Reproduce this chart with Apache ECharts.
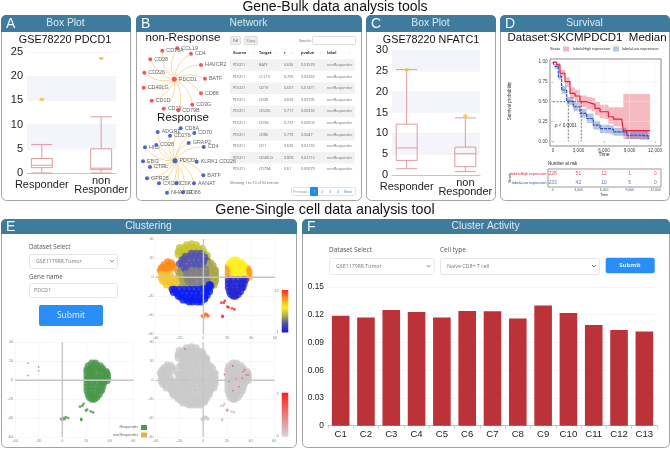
<!DOCTYPE html>
<html><head><meta charset="utf-8"><style>html,body{margin:0;padding:0;background:#fff}#c{width:670px;height:449px}</style>
<script src="https://cdn.jsdelivr.net/npm/echarts@6/dist/echarts.min.js"></script></head><body><div id="c"></div>
<script>
// ---------- data ----------
const boxCats = ['Responder', '', 'non\nResponder'];
const boxA = [[0, 1.1, 1.6, 3.0, 5.9], ['-', '-', '-', '-', '-'], [0, 0.7, 1.0, 5.0, 11.6]];
const outA = [[0, 15.2], [2, 23.7]];
const boxC = [[1.5, 3.5, 6.5, 12.2, 25.3], ['-', '-', '-', '-', '-'], [0.8, 2.0, 5.1, 6.7, 13.7]];
const outC = [[0, 25.3], [2, 14.2]];

const netNon = [['CCL19',177.3,48.3],['CD79A',162.3,50.7],['CD4',191,53.7],['CD38',150.3,59.3],['HAVCR2',201,65],['CD226',144.3,72.7],['BATF',205,78.7],['CD40LG',143.7,87.7],['CD86',201,93.3],['CD1D',151.7,100.7],['CD3G',192.3,104.7],['CD19',163.7,108.7],['CD79B',178.3,110.3]];
const netNonHub = ['PDCD1',174.3,79.3];
const netRes = [['CD8A',180.7,128.3],['ADGR1',157.7,132],['CD276',170,135.7],['CD70',194.3,133],['CD28',156.3,145],['GRAP2',188.7,143],['HICI',145,147.3],['CD4',203.7,147],['EBI3',143,161.3],['KLRK1 CD226',196.7,161.7],['CTRL',150,167],['BATF',203.3,175.3],['GPR25',147,178.3],['CXCR6',159,183.3],['CSK',176.3,183.3],['AANAT',194,183.3],['NHA70R',167,192.7],['CD86',183,192.2]];
const netResHub = ['PDCD1',175,160.7];

const tableHead = ['Source','Target','r','pvalue','label'];
const tableTarget = ['BATF','CCL19','CD19','CD38','CD226','CD3G','CD86','CD1','CD40LG','CD79A'];
const tableR = ['0.635','0.705','0.657','0.659','0.717','0.727','0.779','0.635','0.809','0.61'];
const tableP = ['0.02529','0.00263','0.01471','0.00795','0.00332','0.00502','0.0047','0.02155','0.02712','0.00079'];

const survHigh = [[0,1],[430,.966],[820,.86],[1410,.754],[2000,.606],[2590,.572],[3175,.5],[3960,.479],[4550,.466],[4940,.415],[5530,.373],[6115,.373],[6510,.31],[7100,.28],[8075,.28],[8270,.135],[11400,.14]];
const survLow = [[0,1],[235,.945],[627,.818],[1020,.648],[1610,.508],[2390,.436],[3175,.352],[3960,.288],[4745,.203],[5530,.16],[6700,.15],[7100,.119],[8660,.076],[10230,.068],[11210,.025]];
const ciHigh = [[0,.99,1],[430,.94,.99],[820,.82,.90],[1410,.69,.81],[2000,.54,.68],[2590,.50,.65],[3175,.43,.58],[3960,.40,.56],[4550,.38,.55],[4940,.33,.50],[5530,.29,.46],[6115,.28,.46],[6510,.22,.43],[7100,.19,.43],[8075,.19,.43],[8270,.03,.597],[11400,.03,.597]];
const ciLow = [[0,.99,1],[235,.91,.97],[627,.78,.86],[1020,.60,.70],[1610,.46,.56],[2390,.38,.49],[3175,.30,.41],[3960,.23,.35],[4745,.15,.26],[5530,.10,.21],[6700,.09,.20],[7100,.07,.17],[8660,.03,.13],[10230,.02,.14],[11210,.0,.1]];
const riskTimes = [0,3000,6000,9000,12000];
const riskHigh = [228,51,12,1,0];
const riskLow = [233,42,10,5,0];

const tOlive = [[-14,34],[-10,35],[-6,34],[-20,31],[-16,31],[-12,31],[-8,31],[-4,30],[-1,30],[-21,27],[-19,28],[-15,28],[-11,28],[-7,28],[-3,28],[0,27],[-21,24],[-18,25],[-14,25],[1,24],[3,23],[3,20],[-17,23]];
const tSlate = [[-10,25],[-6,25],[-2,25],[-15,22],[-11,22],[-7,22],[-3,22],[1,21],[-18,18],[-16,19],[-12,18],[-8,18],[-4,18],[0,17],[3,17],[-20,14],[-18,15],[-14,14],[-10,14],[-6,14],[-2,14],[2,13],[-18,10],[-14,10],[-10,10],[-6,11],[-2,10],[-15,7],[-19,6]];
const tGrey = [[-10,7],[-6,7],[-2,6],[2,8],[-14,4],[-10,3],[-6,3],[-2,3],[2,4],[-14,0],[-10,-1],[-6,0],[-2,-1],[2,0],[-13,-4],[-9,-4],[-5,-5],[-1,-4],[3,-4],[-9,-8],[-5,-9],[-1,-8]];
const tKhaki = [[6,15],[5,12],[8,12],[6,8],[9,8],[10,7],[6,4],[9,4],[10,3],[6,0],[9,0],[10,-1],[7,-4],[10,-4],[4,-8],[7,-8],[9,-8],[3,-11],[6,-11],[-21,6],[-20,2],[-17,2],[-20,-2],[-17,-2],[-19,-6],[-15,-6],[-12,-8],[-18,-10],[-14,-10]];
const tOrange = [[-30,16],[-27,15],[-33,13],[-30,13],[-26,13],[-35,10],[-33,10],[-29,10],[-25,10],[-36,7],[-34,6],[-30,6]];
const tGold = [[-35,3],[-32,2],[-28,3],[-35,-1],[-33,-1],[-29,-1],[-25,-1],[-34,-4],[-31,-5],[-27,-4],[-23,-5],[-31,-8],[-27,-9],[-23,-8],[-27,-10],[-24,-11]];
const tBlue = [[-26,-13],[-24,-13],[-20,-13],[-16,-13],[-12,-13],[-8,-13],[-4,-13],[0,-12],[4,-12],[6,-9],[5,-8],[-25,-16],[-22,-17],[-18,-17],[-14,-17],[-10,-17],[-6,-17],[-2,-17],[2,-16],[5,-15],[-21,-20],[-19,-21],[-15,-21],[-11,-21],[-7,-21],[-3,-21],[1,-21],[3,-19],[-17,-24],[-14,-24],[-10,-24],[-6,-24],[-2,-24],[1,-23],[-12,-26],[-9,-26],[-5,-26],[-2,-26]];
const tYellow = [[25,18],[28,18],[22,15],[25,15],[29,15],[32,15],[24,12],[28,12],[32,12],[34,12],[25,8],[29,8],[33,8],[25,4],[29,4],[33,4],[27,1],[31,1],[34,1]];
const tAmber = [[21,11],[21,9],[23,9],[21,5],[23,5],[21,1],[23,1],[37,9],[37,7],[38,6],[37,3],[38,3],[36,0],[38,0]];
const tRoyal = [[21,-3],[25,-3],[29,-3],[33,-3],[35,-3],[21,-7],[24,-7],[28,-7],[32,-7],[34,-7],[21,-11],[24,-11],[28,-11],[32,-11],[33,-11],[22,-15],[24,-15],[28,-15],[31,-15],[23,-18],[26,-18],[29,-18],[25,-20],[27,-20]];
const tSmallOrange = [[-1,-41],[1,-40],[3,-40],[0,-42],[2,-39],[4,-41]];
const tSmallRed = [[15,-27],[17,-27],[18,-25],[20,-31],[21,-32],[24,-33],[26,-34],[16,-41],[16,-42]];
const tSpecks = [[-29,18],[-29,5],[-20,14],[-20,10]];
const tGreenSmall = [[-1,-41],[1,-40],[3,-39],[5,-40],[0,-42],[2,-41],[15,-28],[17,-27],[18,-25],[20,-32],[21,-31],[24,-33],[26,-34],[16,-41],[16,-42]];
const tPositive = [[-15.4,33],[25,15],[18,6],[33.7,9],[35,11],[33,2],[36.5,5.6],[38,5.6],[28,1.4],[21.6,-1],[25,-11],[30,-7],[20,-32]];

const barCats = ['C1','C2','C3','C4','C5','C6','C7','C8','C9','C10','C11','C12','C13'];
const barVals = [.119,.117,.125,.123,.117,.124,.1237,.116,.130,.122,.109,.1035,.102];

// ---------- helpers ----------
const SANS = '"Liberation Sans",Arial,sans-serif', FORM = '"Open Sans","Noto Sans",sans-serif';
const HEAD = '#3e7b9d';
const g = [];
function T(text,x,y,size,fill,opt){opt=opt||{};g.push({type:'text',x:x,y:y,z:opt.z==null?5:opt.z,rotation:opt.rot||0,silent:true,style:{text:text,align:opt.align||'left',verticalAlign:'middle',textAlign:opt.align||'left',textVerticalAlign:'middle',font:(opt.weight?opt.weight+' ':'')+size+'px '+(opt.family||SANS),fill:fill}});}
function R(x,y,w,h,fill,stroke,r,z){g.push({type:'rect',z:z==null?-1:z,silent:true,shape:{x:x,y:y,width:w,height:h,r:r||0},style:{fill:fill,stroke:stroke||null,lineWidth:stroke?1:0}});}
function panel(x0,y0,x1,y1,letter,title,hh){
  R(x0+.5,y0+.5,x1-x0,y1-y0,'#fff','#a4a4a4',5,-3);
  R(x0,y0,x1-x0+1,hh,HEAD,null,[5,5,0,0],-2);
  T(letter,x0+5,y0+hh/2+.5,14,'#f3f8fb');
  T(title,(x0+x1)/2,y0+hh/2,10.3,'#dcebf3',{align:'center'});
}
function select(x0,y0,x1,y1,txt){
  R(x0+.5,y0+.5,x1-x0,y1-y0,'#fff','#e3e6ea',2,-1);
  T(txt,x0+7,(y0+y1)/2,5.3,'#7a7a7a',{family:FORM});
  const cx=x1-5,cy=(y0+y1)/2;
  g.push({type:'polyline',z:5,silent:true,shape:{points:[[cx-2,cy-1],[cx,cy+1],[cx+2,cy-1]]},style:{stroke:'#666',lineWidth:.8,fill:null}});
}
function gradBar(x,y,w,h,stops,top,bot){
  g.push({type:'rect',z:4,silent:true,shape:{x:x,y:y,width:w,height:h},style:{fill:new echarts.graphic.LinearGradient(0,0,0,1,stops)}});
  T(top,x-3,y+1,4,'#888',{align:'right'});T(bot,x-3,y+h-1,4,'#888',{align:'right'});
}

// ---------- frames and titles ----------
T('Gene-Bulk data analysis tools',335,7,14,'#111',{align:'center'});
T('Gene-Single cell data analysis tool',325,210,14.3,'#111',{align:'center'});
panel(1,15,130,200,'A','Box Plot',17);
panel(136,15,361,200,'B','Network',17);
panel(366,15,495,200,'C','Box Plot',17);
panel(500,15,669,200,'D','Survival',17);
panel(1,219,296,447,'E','Clustering',15);
panel(302,219,669,447,'F','Cluster Activity',15);

T('GSE78220 PDCD1',65,40,10.8,'#111',{align:'center'});
T('GSE78220 NFATC1',431,40,10.8,'#111',{align:'center'});
T('non-Response',183,38,11.5,'#111',{align:'center'});
T('Response',183,118,11.5,'#111',{align:'center'});
T('Dataset:SKCMPDCD1  Median',587,38,11.5,'#111',{align:'center'});

// ---------- table ----------
R(230.5,36.5,10,8,'#eee','#ddd',1,-1);T('Pdf',235.5,40.5,3.6,'#666',{align:'center',family:FORM});
R(244.5,36.5,13,8,'#eee','#ddd',1,-1);T('Copy',251,40.5,3.6,'#666',{align:'center',family:FORM});
T('Search:',299,40.5,3.6,'#666',{family:FORM});R(312.5,36.5,43,8,'#fff','#ddd',1,-1);
const colX=[233,259,284,301,327];
tableHead.forEach((h,i)=>T(h,colX[i],53,3.9,'#333',{weight:'bold',family:FORM}));
[0,1,2,3,4].forEach(i=>{T('\u2195',colX[i]+(i===0?20:i===1?17:i===2?7:i===3?19:22),53,3.6,'#bbb',{family:FORM});});
tableTarget.forEach((t,i)=>{
  const y=65+i*11.6;
  if(i%2===0)R(230,y-5.8,125,11.6,'#f2f2f2',null,0,-1);
  T('PDCD1',colX[0],y,3.7,'#666',{family:FORM});T(t,colX[1],y,3.7,'#666',{family:FORM});
  T(tableR[i],colX[2],y,3.7,'#666',{family:FORM});T(tableP[i],colX[3],y,3.7,'#666',{family:FORM});
  T('nonResponder',colX[4],y,3.7,'#666',{family:FORM});
});
T('Showing 1 to 10 of 32 entries',230,182.7,3.6,'#666',{family:FORM});
R(291.5,187.5,64,8,'#fff','#e4e4e4',1,-1);R(310,187,8,9,'#1e88f5',null,1,-1);
T('Previous',300.5,191.5,3.6,'#888',{align:'center',family:FORM});T('1',314,191.5,3.6,'#fff',{align:'center',family:FORM});
T('2',322,191.5,3.6,'#3a7bd5',{align:'center',family:FORM});T('3',330,191.5,3.6,'#3a7bd5',{align:'center',family:FORM});T('4',338,191.5,3.6,'#3a7bd5',{align:'center',family:FORM});T('Next',348,191.5,3.6,'#3a7bd5',{align:'center',family:FORM});

// ---------- survival extras ----------
T('Strata',550,49,3.8,'#333');
R(563,46.5,6,5,'#f4b6bd',null,0,1);R(613,46.5,6,5,'#b6c4e6',null,0,1);
T('label=High expression',573,49,3.8,'#333');T('label=Low expression',622,49,3.8,'#333');
T('Survival probability',510,101,4.6,'#333',{align:'center',rot:Math.PI/2});
T('Time',604,155,5,'#222',{align:'center'});
T('p < 0.0001',555,125.7,4.6,'#333');
T('Number at risk',548,164,4.5,'#222');
T('Strata',510,178,3.6,'#222',{align:'center',rot:Math.PI/2});
T('Time',604,195.5,3.5,'#222',{align:'center'});

// ---------- form E ----------
T('Dataset Select',29,247,6.3,'#555',{family:FORM});
select(29,254,117,268,'GSE117988.Tumor');
T('Gene name',29,277,6.3,'#555',{family:FORM});
R(29.5,283.5,88,14,'#fff','#e3e6ea',2,-1);T('PDCD1',34,290.5,5.3,'#7a7a7a',{family:FORM});
R(39,305,64,21,'#2a8ef6',null,2,-1);T('Submit',71,316,8.5,'#e8f3ff',{align:'center',family:FORM});
gradBar(281.7,290,6.6,42.5,[{offset:0,color:'#ff2a1a'},{offset:.22,color:'#ffa020'},{offset:.42,color:'#ffee20'},{offset:.62,color:'#a8a850'},{offset:.78,color:'#55559f'},{offset:.97,color:'#2020d0'},{offset:1,color:'#0a1ef5'}],'13','1');
gradBar(281.7,392.7,6.6,44,[{offset:0,color:'#ff2020'},{offset:1,color:'#d4d4d4'}],'2','0');
T('Responder',138,427,3.8,'#666',{align:'right'});R(141,425,6,5,'#4a9a4a',null,0,1);
T('nonResponder',138,434.7,3.8,'#666',{align:'right'});R(141,432.5,6,5,'#e8b040',null,0,1);

// ---------- form F ----------
T('Dataset Select',329,249.7,6.5,'#555',{family:FORM});
select(329,258,433.6,274,'GSE117988.Tumor');
T('Cell type',440,249.7,6.5,'#555',{family:FORM});
select(440,258,599,274,'Naive CD8+ T cell');
R(605.7,257.7,49,15.6,'#2a8ef6',null,2,-1);T('Submit',630,265.5,6,'#e8f3ff',{align:'center',weight:'bold',family:FORM});

// ---------- ECharts grids ----------
const grid=[], xAxis=[], yAxis=[], series=[];
function addGrid(l,t,w,h,extra){grid.push(Object.assign({left:l,top:t,width:w,height:h,containLabel:false},extra||{}));return grid.length-1;}

function boxPanel(l,t,w,h,ymax,box,out){
  const i=addGrid(l,t,w,h);
  xAxis.push({gridIndex:i,type:'category',data:boxCats,axisTick:{show:false},axisLine:{lineStyle:{color:'#c4c4c4'}},splitLine:{show:false},
    axisLabel:{interval:0,margin:3,fontFamily:SANS,fontSize:11,color:'#222',lineHeight:9,
      formatter:v=>v==='Responder'?'{lo|Responder}':v,rich:{lo:{padding:[9,0,0,0],fontSize:11,fontFamily:SANS,color:'#222'}}}});
  yAxis.push({gridIndex:i,type:'value',min:0,max:ymax,interval:5,axisLine:{show:false},axisTick:{show:false},
    axisLabel:{fontFamily:SANS,fontSize:11,color:'#222',margin:4},
    splitLine:{lineStyle:{color:'#f1f2f6',width:.6}},splitArea:{show:true,areaStyle:{color:['rgba(255,255,255,0)','#f3f5fb']}}});
  series.push({type:'boxplot',xAxisIndex:i,yAxisIndex:i,data:box,boxWidth:[21,21],itemStyle:{color:'rgba(255,255,255,0)',borderColor:'#e29a9c',borderWidth:1},silent:true,animation:false});
  series.push({type:'scatter',xAxisIndex:i,yAxisIndex:i,data:out,symbol:'circle',symbolSize:[5,3.2],itemStyle:{color:'#f2c22e'},silent:true});
}
boxPanel(27,52,89,121,25,boxA,outA);
boxPanel(392,50,88,125,30,boxC,outC);

// network, axis units are the panel's own layout space
const ni=addGrid(137,34,92,165);
xAxis.push({gridIndex:ni,type:'value',min:137,max:229,show:false});
yAxis.push({gridIndex:ni,type:'value',min:34,max:199,inverse:true,show:false});
function net(hub,nodes,color){
  series.push({type:'graph',coordinateSystem:'cartesian2d',xAxisIndex:ni,yAxisIndex:ni,layout:'none',silent:true,
    symbolSize:4,itemStyle:{color:color},
    label:{show:true,position:'right',distance:2,fontSize:5.4,color:'#666',fontFamily:SANS,formatter:'{b}'},
    lineStyle:{color:'#f7dca3',width:1,curveness:.28,opacity:1},
    data:[{name:hub[0],value:[hub[1],hub[2]],symbolSize:5}].concat(nodes.map(n=>({name:n[0],value:[n[1],n[2]]}))),
    links:nodes.map(n=>({source:hub[0],target:n[0]}))});
}
net(netNonHub,netNon,'#ee5a5c');
net(netResHub,netRes,'#4a66c8');

// survival
const si=addGrid(550,59,111,87,{show:true,borderColor:'#888',borderWidth:1,backgroundColor:'#fff'});
xAxis.push({gridIndex:si,type:'value',min:-350,max:12700,
  axisLine:{show:false},axisTick:{customValues:riskTimes,length:1.5,lineStyle:{color:'#555',width:.6}},
  axisLabel:{customValues:riskTimes,fontSize:4.6,color:'#444',margin:2.5,fontFamily:SANS},splitLine:{show:false}});
yAxis.push({gridIndex:si,type:'value',min:-.06,max:1.04,
  axisLine:{show:false},axisTick:{customValues:[0,.25,.5,.75,1],length:1.5,lineStyle:{color:'#555',width:.6}},
  axisLabel:{customValues:[0,.25,.5,.75,1],fontSize:4.6,color:'#444',margin:2.5,fontFamily:SANS,formatter:v=>v.toFixed(2)},splitLine:{show:false}});
riskTimes.forEach(t=>series.push({type:'line',xAxisIndex:si,yAxisIndex:si,data:[[t,-.06],[t,1.04]],showSymbol:false,lineStyle:{color:'#eee',width:.5},silent:true}));
[0,.25,.5,.75,1].forEach(v=>series.push({type:'line',xAxisIndex:si,yAxisIndex:si,data:[[-350,v],[12700,v]],showSymbol:false,lineStyle:{color:'#eee',width:.5},silent:true}));
function ribbon(ci,color){
  series.push({type:'custom',xAxisIndex:si,yAxisIndex:si,silent:true,data:ci,clip:true,
    renderItem:(p,api)=>{
      if(p.dataIndex!==0)return {type:'group',children:[]};
      const up=[],lo=[];
      ci.forEach((c,k)=>{
        if(k>0){up.push(api.coord([c[0],ci[k-1][2]]));lo.push(api.coord([c[0],ci[k-1][1]]));}
        up.push(api.coord([c[0],c[2]]));lo.push(api.coord([c[0],c[1]]));
      });
      return {type:'polygon',shape:{points:up.concat(lo.reverse())},style:{fill:color}};
    }});
}
ribbon(ciHigh,'rgba(232,60,80,.36)');
ribbon(ciLow,'rgba(50,85,190,.36)');
[[[0,.5],[3330,.5]],[[1800,.5],[1800,0]],[[3330,.5],[3330,0]]].forEach(d=>series.push({type:'line',xAxisIndex:si,yAxisIndex:si,data:d,showSymbol:false,silent:true,lineStyle:{color:'#333',width:.7,type:[2,1.5]}}));
series.push({type:'line',xAxisIndex:si,yAxisIndex:si,step:'end',data:survHigh,showSymbol:false,silent:true,lineStyle:{color:'#e5203a',width:1.2}});
series.push({type:'line',xAxisIndex:si,yAxisIndex:si,step:'end',data:survLow,showSymbol:false,silent:true,lineStyle:{color:'#2a50b4',width:1.2,type:[3,1]}});

// number at risk
const ri=addGrid(548,169,113,18,{show:true,borderColor:'#999',borderWidth:1});
xAxis.push({gridIndex:ri,type:'value',min:-550,max:12650,axisLine:{show:false},splitLine:{show:false},
  axisTick:{customValues:riskTimes,length:1.2,lineStyle:{color:'#666',width:.5}},
  axisLabel:{customValues:riskTimes,fontSize:3.4,color:'#555',margin:1.5,fontFamily:SANS}});
yAxis.push({gridIndex:ri,type:'category',inverse:true,data:['label=High expression','label=Low expression'],axisLine:{show:false},axisTick:{show:false},
  axisLabel:{fontSize:3.6,margin:1.5,fontFamily:SANS,color:v=>v.indexOf('High')>=0?'#e5203a':'#2a50b4'}});
function riskSeries(vals,row,color){
  series.push({type:'scatter',xAxisIndex:ri,yAxisIndex:ri,symbolSize:1,itemStyle:{color:'rgba(0,0,0,0)'},silent:true,
    data:vals.map((v,k)=>[riskTimes[k],row,v]),
    label:{show:true,position:'inside',fontSize:5,color:color,fontFamily:SANS,formatter:p=>p.value[2]}});
}
riskSeries(riskHigh,0,'#e5203a');riskSeries(riskLow,1,'#2a50b4');

// t-SNE scatter panels
function tsne(l,t,w,h,layers){
  const i=addGrid(l,t,w,h);
  const axis={gridIndex:i,type:'value',axisLine:{show:false},axisTick:{show:false},
    axisLabel:{fontSize:3.8,color:'#888',margin:2,fontFamily:SANS},splitLine:{lineStyle:{color:'#eef1f5',width:.6}}};
  xAxis.push(Object.assign({},axis,{min:-40,max:60,interval:20}));
  yAxis.push(Object.assign({},axis,{min:-60,max:40,interval:20}));
  [[[-40,0],[60,0]],[[0,-60],[0,40]]].forEach(d=>series.push({type:'line',xAxisIndex:i,yAxisIndex:i,data:d,showSymbol:false,silent:true,lineStyle:{color:'#c6c6c6',width:1.4}}));
  layers.forEach(L=>series.push({type:'scatter',xAxisIndex:i,yAxisIndex:i,data:L[0],symbolSize:L[2],itemStyle:{color:L[1]},silent:true}));
}
const BIG=7.4;
tsne(155.7,239.3,119.3,94.7,[
  [tOlive,'#c6c62a',BIG],[tSlate,'#5353ab',BIG],[tKhaki,'#a9a84a',BIG],[tGrey,'#808080',BIG],
  [tOrange,'#ff8a1c',BIG],[tGold,'#f6c52c',BIG],[tBlue,'#0a1ef2',BIG],
  [tAmber,'#ffa31e',BIG],[tYellow,'#fff020',BIG],[tRoyal,'#2626d2',BIG],
  [tSmallOrange,'#ff6a20',3.5],[tSmallRed,'#f02a20',2.8]]);
const rightAll=tYellow.concat(tAmber,tRoyal);
tsne(15,342.3,118.3,94.7,[[rightAll,'#4a994a',BIG],[tGreenSmall,'#4a994a',2.8],[tSpecks,'#6aaa6a',1.8]]);
const allCells=tOlive.concat(tSlate,tKhaki,tGrey,tOrange,tGold,tBlue,rightAll);
tsne(155.7,342.3,118.6,94.7,[[allCells,'#c9c9c9',BIG],[tSmallOrange,'#c9c9c9',3.5],[tSmallRed,'#c9c9c9',2.6],[tPositive,'#f05a5a',1.8]]);

// bars
const bi=addGrid(328,287,329,138.7);
xAxis.push({gridIndex:bi,type:'category',data:barCats,axisLine:{lineStyle:{color:'#c0c0c0'}},axisTick:{show:true,lineStyle:{color:'#ccc'},length:3},
  axisLabel:{interval:0,fontSize:9.6,color:'#222',margin:4,fontFamily:SANS}});
yAxis.push({gridIndex:bi,type:'value',min:0,max:.15,interval:.03,axisLine:{show:false},axisTick:{show:false},
  axisLabel:{fontSize:8.4,color:'#222',margin:4,fontFamily:SANS,formatter:v=>v===0?'0':v.toFixed(2)},splitLine:{lineStyle:{color:'#f0f0f0',width:.7}}});
series.push({type:'bar',xAxisIndex:bi,yAxisIndex:bi,data:barVals,barWidth:17.6,itemStyle:{color:'#bc3239'},silent:true});

const chart=echarts.init(document.getElementById('c'),null,{renderer:'canvas'});
chart.setOption({animation:false,backgroundColor:'#fff',tooltip:{show:false},grid:grid,xAxis:xAxis,yAxis:yAxis,series:series,graphic:{elements:g}});
</script></body></html>
